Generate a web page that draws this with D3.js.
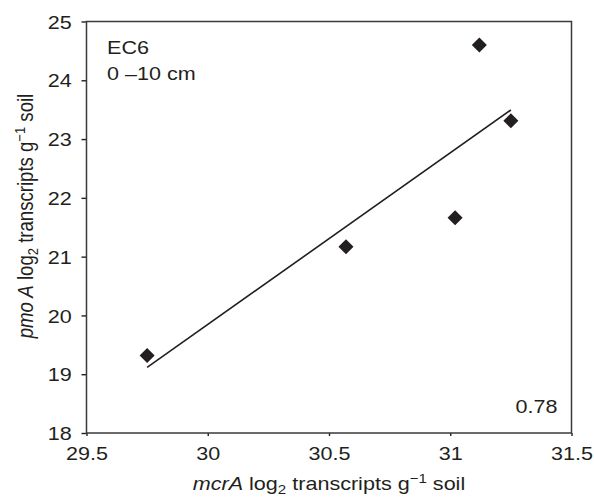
<!DOCTYPE html>
<html>
<head>
<meta charset="utf-8">
<script src="https://cdn.jsdelivr.net/npm/d3@7"></script>
<style>
  body { margin: 0; background: #fff; }
  svg { display: block; font-family: "Liberation Sans", Arial, sans-serif; }
</style>
</head>
<body>
<svg id="chart" width="594" height="498"></svg>
<script>
// data (EC6, 0-10 cm)
const mcrA = [29.75, 30.57, 31.02, 31.12, 31.25];
const pmoA = [19.32, 21.17, 21.66, 24.60, 23.31];
const xTicks = [29.5, 30, 30.5, 31, 31.5];
const yTicks = [18, 19, 20, 21, 22, 23, 24, 25];
const r2Label = "0.78";

const width = 594, height = 498;
const margin = { top: 21.5, right: 22.5, bottom: 65, left: 86.5 };
const ink = "#231f20";
const fs = 18.6;     // font size
const sx = 1.16;     // the original figure is a little wider than tall

const svg = d3.select("#chart");

const x = d3.scaleLinear().domain([29.5, 31.5]).range([margin.left, width - margin.right]);
const y = d3.scaleLinear().domain([18, 25]).range([height - margin.bottom, margin.top]);

// axes
const xAxis = svg.append("g")
  .attr("transform", `translate(0,${height - margin.bottom})`)
  .call(d3.axisBottom(x).tickValues(xTicks).tickFormat(d3.format("~g")).tickSize(3).tickSizeOuter(0));

const yAxis = svg.append("g")
  .attr("transform", `translate(${margin.left},0)`)
  .call(d3.axisLeft(y).tickValues(yTicks).tickFormat(d3.format("d")).tickSize(5).tickSizeOuter(0));

for (const g of [xAxis, yAxis]) {
  g.select(".domain").remove();
  g.selectAll(".tick line").attr("stroke", ink).attr("stroke-width", 1.4);
  g.selectAll(".tick text")
    .attr("fill", ink)
    .style("font-size", fs + "px")
    .attr("x", null).attr("y", null).attr("dy", null);
}
xAxis.selectAll(".tick text")
  .attr("text-anchor", "middle")
  .attr("transform", `translate(0,26.5) scale(${sx},1)`);
yAxis.selectAll(".tick text")
  .attr("text-anchor", "end")
  .attr("transform", `translate(-14.8,6.6) scale(${sx},1)`);

// frame
svg.append("rect")
  .attr("x", margin.left).attr("y", margin.top)
  .attr("width", width - margin.left - margin.right)
  .attr("height", height - margin.top - margin.bottom)
  .attr("fill", "none")
  .attr("stroke", "#3a3a3a")
  .attr("stroke-width", 1.5);

// least squares fit over the data range
const mx = d3.mean(mcrA), my = d3.mean(pmoA);
const slope = d3.sum(mcrA, (v, i) => (v - mx) * (pmoA[i] - my)) / d3.sum(mcrA, v => (v - mx) ** 2);
const fit = v => my + slope * (v - mx);
const ext = d3.extent(mcrA);

svg.append("line")
  .attr("x1", x(ext[0])).attr("y1", y(fit(ext[0])))
  .attr("x2", x(ext[1])).attr("y2", y(fit(ext[1])))
  .attr("stroke", ink)
  .attr("stroke-width", 1.6);

// diamonds
const diamond = d3.symbol().type(d3.symbolSquare).size(113);
svg.append("g")
  .selectAll("path")
  .data(mcrA)
  .join("path")
  .attr("d", diamond)
  .attr("fill", ink)
  .attr("transform", (d, i) => `translate(${x(d)},${y(pmoA[i])}) rotate(45)`);

// annotations
function label(text, px, py, anchor) {
  return svg.append("text")
    .attr("transform", `translate(${px},${py}) scale(${sx},1)`)
    .attr("text-anchor", anchor || "start")
    .attr("fill", ink)
    .style("font-size", fs + "px")
    .text(text);
}
label("EC6", 107, 54);
label("0 \u201310 cm", 107, 80);
label(r2Label, 557.5, 413.3, "end");

// axis titles with sub/superscripts
function title(el, italicPart) {
  el.attr("fill", ink).style("font-size", fs + "px").attr("text-anchor", "middle");
  el.append("tspan").style("font-style", "italic").text(italicPart);
  el.append("tspan").text(" log");
  el.append("tspan").attr("dy", 4).style("font-size", (fs * 0.7) + "px").text("2");
  el.append("tspan").attr("dy", -4).text(" transcripts g");
  el.append("tspan").attr("dy", -7).style("font-size", (fs * 0.7) + "px").text("\u22121");
  el.append("tspan").attr("dy", 7).text(" soil");
}

const plotCx = (margin.left + width - margin.right) / 2;
title(svg.append("text").attr("transform", `translate(${plotCx},490) scale(${sx},1)`), "mcrA");
title(svg.append("text").attr("transform", `translate(33,216) rotate(-90) scale(1,${sx})`), "pmo A");
</script>
</body>
</html>
